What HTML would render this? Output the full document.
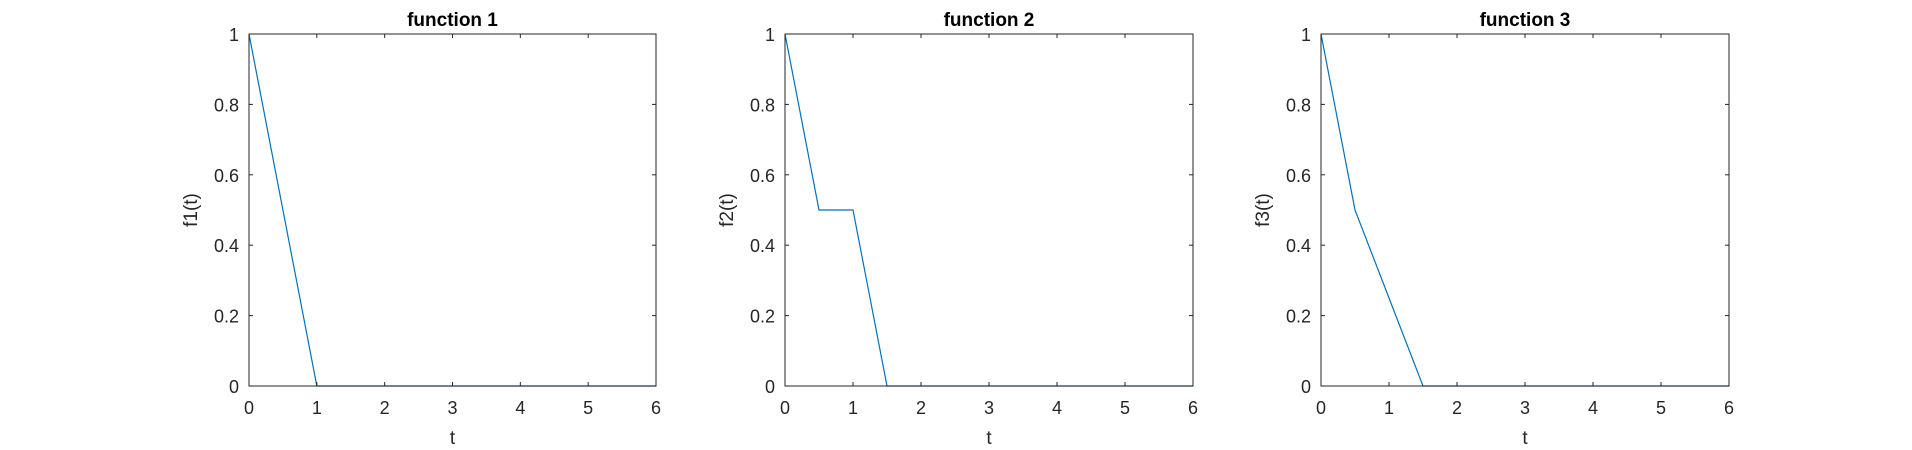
<!DOCTYPE html>
<html><head><meta charset="utf-8"><style>
html,body{margin:0;padding:0;background:#fff;}
svg{display:block;font-family:"Liberation Sans",Arial,sans-serif;}
</style></head><body>
<svg id="fig" width="1912" height="450" viewBox="0 0 1912 450"></svg>
<script>
const tValues = [0, 0.5, 1, 1.5, 2, 3, 4, 5, 6];
const f1Values = [1, 0.5, 0, 0, 0, 0, 0, 0, 0];
const f2Values = [1, 0.5, 0.5, 0, 0, 0, 0, 0, 0];
const f3Values = [1, 0.5, 0.25, 0, 0, 0, 0, 0, 0];
const xTicks = [0, 1, 2, 3, 4, 5, 6];
const yTicks = [0, 0.2, 0.4, 0.6, 0.8, 1];
const yTickLabels = ["0", "0.2", "0.4", "0.6", "0.8", "1"];
const titles = ["function 1", "function 2", "function 3"];
const yLabels = ["f1(t)", "f2(t)", "f3(t)"];

const NS = "http://www.w3.org/2000/svg";
const svgRoot = document.getElementById('fig');
const panels = [
  {left:249, right:656, series:f1Values},
  {left:785, right:1193, series:f2Values},
  {left:1321, right:1729, series:f3Values}
];
const axTop = 34, axBottom = 386;
function mk(tag, attrs, parent){const e=document.createElementNS(NS,tag);for(const k in attrs)e.setAttribute(k,attrs[k]);(parent||svgRoot).appendChild(e);return e;}

panels.forEach((p, i) => {
  const xS = v => p.left + (v - 0) / 6 * (p.right - p.left);
  const yS = v => axBottom - v * (axBottom - axTop);
  const g = mk('g', {});
  
  

  const line = mk('polyline', {points: tValues.map((t,k)=>xS(t)+','+yS(p.series[k])).join(' '), fill:'none', stroke:'#0072BD', 'stroke-width':1.2}, g);
  
  

  const box = mk('rect', {x:p.left, y:axTop, width:p.right-p.left, height:axBottom-axTop, fill:'none', stroke:'#262626', 'stroke-width':1}, g);
  
  

  xTicks.forEach(v => {
    const x = xS(v);
    mk('line', {x1:x, y1:axBottom, x2:x, y2:axBottom-4, stroke:'#262626'}, g);
    mk('line', {x1:x, y1:axTop, x2:x, y2:axTop+4, stroke:'#262626'}, g);
    const t = mk('text', {x:x, y:axBottom+28, 'text-anchor':'middle', 'font-size':18, fill:'#262626'}, g);
    t.textContent = v;
    
    
  });
  yTicks.forEach((v, k) => {
    const y = yS(v);
    mk('line', {x1:p.left, y1:y, x2:p.left+4, y2:y, stroke:'#262626'}, g);
    mk('line', {x1:p.right, y1:y, x2:p.right-4, y2:y, stroke:'#262626'}, g);
    const t = mk('text', {x:p.left-10, y:y+7, 'text-anchor':'end', 'font-size':18, fill:'#262626'}, g);
    t.textContent = yTickLabels[k];
    
    
  });
  const ti = mk('text', {x:(p.left+p.right)/2, y:26, 'text-anchor':'middle', 'font-size':19, 'font-weight':'bold', fill:'#000'}, g);
  ti.textContent = titles[i];
  
  
  const xl = mk('text', {x:(p.left+p.right)/2, y:axBottom+58, 'text-anchor':'middle', 'font-size':19, fill:'#262626'}, g);
  xl.textContent = 't';
  
  
  const cy = (axTop+axBottom)/2, cx = p.left-52;
  const yl = mk('text', {x:cx, y:cy, 'text-anchor':'middle', 'font-size':19, fill:'#262626', transform:'rotate(-90 '+cx+' '+cy+')'}, g);
  yl.textContent = yLabels[i];
  
  
});
</script>
</body></html>
